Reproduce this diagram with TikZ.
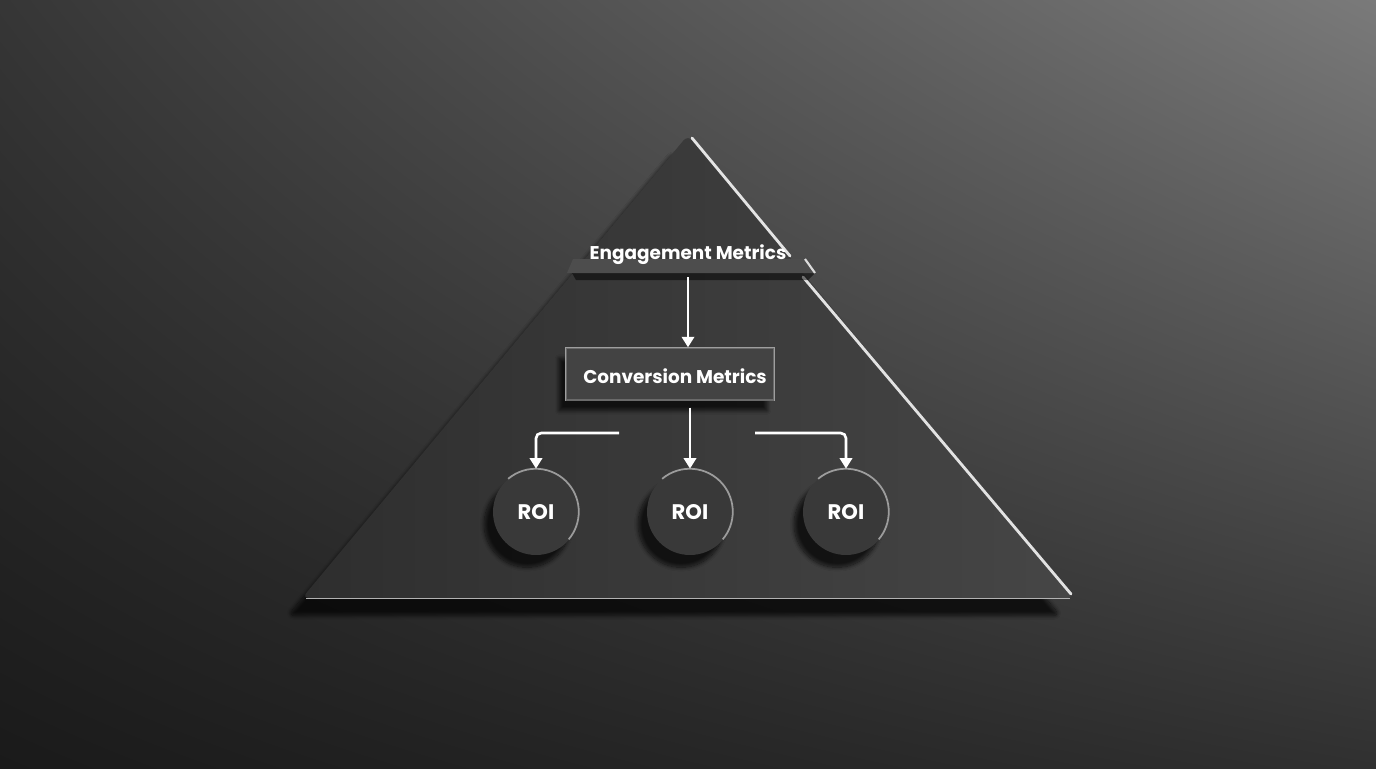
\documentclass[tikz,border=0pt]{standalone}
\usepackage{fontspec}
\setmainfont{Poppins}
\usetikzlibrary{arrows.meta,shadows.blur,shadings}

\definecolor{bgTL}{HTML}{363636}
\definecolor{bgTR}{HTML}{7A7A7A}
\definecolor{bgBL}{HTML}{1A1A1A}
\definecolor{bgBR}{HTML}{303030}
\definecolor{slab}{HTML}{393939}
\definecolor{slabL}{HTML}{2E2E2E}
\definecolor{slabR}{HTML}{464646}
\definecolor{rim}{HTML}{6A6A6A}

\begin{document}
\begin{tikzpicture}[x=0.02cm, y=-0.02cm,
  lbl/.style={text=white, font=\bfseries\fontsize{10.5}{12}\selectfont},
  roilbl/.style={text=white, font=\bfseries\fontsize{12}{14}\selectfont},
  arr/.style={draw=white, line width=1.5pt, -{Triangle[width=7pt,length=6pt]}},
  roi/.style={circle, minimum size=1.72cm, inner sep=0pt, fill=slab,
    blur shadow={shadow xshift=-5pt, shadow yshift=-7pt, shadow blur steps=12, shadow opacity=70}},
  box/.style={rectangle, minimum width=4.16cm, minimum height=1.04cm, inner sep=0pt,
    fill=slab!95!white, draw=rim, line width=0.8pt,
    blur shadow={shadow xshift=-4pt, shadow yshift=-6pt, shadow blur steps=10, shadow opacity=70}}]
  \useasboundingbox (0,0) rectangle (1376,768);
  % background
  \shade[upper left=bgTL, upper right=bgTR, lower left=bgBL, lower right=bgBR] (0,0) rectangle (1376,768);
  % pyramid
  \shade[left color=slabL, right color=slabR, rounded corners=4pt,
    blur shadow={shadow xshift=-8pt, shadow yshift=-10pt, shadow blur steps=14, shadow opacity=70}]
    (688,135) -- (1074,598) -- (302,598) -- cycle;
  \draw[gray!60, line width=0.5pt] (306,598) -- (1070,598);
  \draw[white, opacity=0.85, line width=1.6pt, line cap=round] (692,138) -- (790,256);
  \draw[white, opacity=0.85, line width=1.6pt, line cap=round] (803,277) -- (1071,594);
  % shelf under the top label
  \fill[black, opacity=0.5] (572,273) -- (815,273) -- (808,280) -- (576,280) -- cycle;
  \fill[slab!90!white] (573,259) -- (805,259) -- (815,273) -- (567,273) -- cycle;
  \draw[white, opacity=0.8, line width=1.2pt] (805,259) -- (815,273);
  \node[lbl] (eng) at (688,255) {Engagement Metrics};
  \coordinate (shelf) at (688,277);
  % boxes and circles
  \node[box] (conv) at (670,374) {};
  \draw[white, opacity=0.35, line width=0.8pt] (conv.south west) |- (conv.north east) -- (conv.south east);
  \node[lbl] (convtxt) at (675,376) {Conversion Metrics};
  \node[roi] (roiA) at (536,512) {};
  \node[roi] (roiB) at (690,512) {};
  \node[roi] (roiC) at (846,512) {};
  \foreach \n in {roiA,roiB,roiC}{
    \draw[white, opacity=0.5, line width=1pt] (\n.130) arc (130:-40:0.86cm);
    \node[roilbl] at (\n) {ROI};
  }
  % connectors
  \coordinate (lstart) at (619,433);
  \coordinate (rstart) at (755,433);
  \draw[arr] (shelf) -- (shelf |- conv.north);
  \draw[arr] (conv.south -| roiB.north) ++(0,-4pt) -- (roiB.north);
  \draw[arr, rounded corners=3pt] (lstart) -| (roiA.north);
  \draw[arr, rounded corners=3pt] (rstart) -| (roiC.north);
\end{tikzpicture}
\end{document}
